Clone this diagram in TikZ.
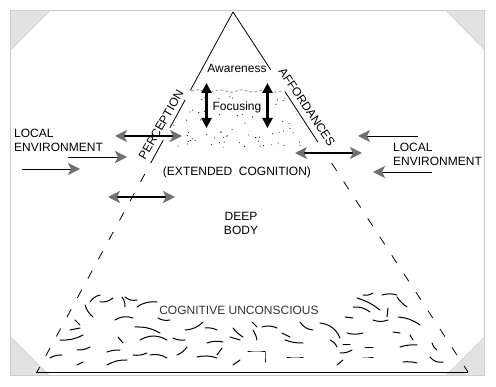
\documentclass[tikz,border=0pt]{standalone}
\usepackage{fontspec}
\setmainfont{Liberation Sans}
\usetikzlibrary{arrows.meta,calc,decorations.pathmorphing}
\definecolor{headgray}{RGB}{112,112,112}
\definecolor{framegray}{RGB}{200,200,200}
\definecolor{cornergray}{RGB}{226,226,226}
\definecolor{wavegray}{RGB}{150,150,150}
\begin{document}
\begin{tikzpicture}[x=1pt, y=-1pt,
    every node/.style={font=\fontsize{12}{14}\selectfont, inner sep=0pt},
    edge/.style={line width=0.8pt},
    gapped/.style={line width=0.8pt, dash pattern=on 9pt off 13pt},
    squiggle/.style={line width=1pt, line cap=round},
    envarrow/.style={line width=0.9pt, -{Stealth[length=12pt,width=12pt,inset=3pt,color=headgray]}},
    linkarrow/.style={line width=2pt, {Stealth[length=12pt,width=12pt,inset=3pt,color=headgray]}-{Stealth[length=12pt,width=12pt,inset=3pt,color=headgray]}},
    focusarrow/.style={line width=3pt, {Triangle[length=10pt,width=10pt]}-{Triangle[length=10pt,width=10pt]}}]
  \useasboundingbox (0,0) rectangle (496,387);
  % Frame
  \draw[framegray, line width=1pt] (10.5,10.5) rectangle (484.5,375.5);
  \filldraw[fill=cornergray, draw=framegray] (10.5,10.5) -- (50,10.5) -- (10.5,50) -- cycle;
  \filldraw[fill=cornergray, draw=framegray] (446,10.5) -- (484.5,10.5) -- (484.5,50) -- cycle;
  \filldraw[fill=cornergray, draw=framegray] (10.5,337) -- (10.5,375.5) -- (49,375.5) -- cycle;
  \filldraw[fill=cornergray, draw=framegray] (446,375.5) -- (484.5,337) -- (484.5,375.5) -- cycle;
  % Pyramid
  \coordinate (apex) at (233,12);
  \coordinate (bl) at (37,372);
  \coordinate (br) at (468,372);
  \draw[edge] ([xshift=-1pt]bl) -- (br);
  \draw[edge] (apex) -- ($(apex)!0.217!(bl)$);
  \draw[edge] ($(apex)!0.244!(bl)$) -- ($(apex)!0.322!(bl)$);
  \draw[edge] ($(apex)!0.356!(bl)$) -- ($(apex)!0.42!(bl)$);
  \draw[gapped] ($(apex)!0.45!(bl)$) -- (bl);
  \draw[edge] (apex) -- ($(apex)!0.161!(br)$);
  \draw[edge] ($(apex)!0.222!(br)$) -- ($(apex)!0.361!(br)$);
  \draw[gapped] ($(apex)!0.42!(br)$) -- (br);
  % Focus zone
  \begin{scope}
    \clip (191,95) -- (284,95) -- (318,148) -- (160,148) -- cycle;
    \pgfmathsetseed{17}
    \foreach \i in {1,...,95}
      \fill ({160+160*rnd},{95+53*rnd}) circle (0.55pt);
  \end{scope}
  \draw[wavegray, line width=0.8pt, dash pattern=on 3pt off 2pt,
    decorate, decoration={snake, amplitude=1.3pt, segment length=22pt}]
    (191,91) -- (286,91);
  % Cognitive unconscious
  \foreach \xa/\ya/\xb/\yb/\k in {
      90/302/100/295/20, 100/302/113/298/-20, 122/297/125/307/20,
      125/297/137/300/-25, 137/307/157/302/20, 85/305/93/317/-15,
      75/320/80/325/0, 115/320/133/318/25, 158/318/170/320/-20,
      135/327/160/333/15, 185/330/203/322/-20, 205/328/217/330/15,
      233/328/243/337/-10, 252/322/257/327/0, 262/327/277/328/20,
      300/322/313/330/-25, 345/317/353/318/0, 353/307/370/312/20,
      357/298/380/310/10, 363/295/373/293/-20, 382/295/397/295/15,
      397/297/407/307/-10, 388/308/387/317/0, 373/320/388/320/-20,
      398/317/420/325/15, 320/323/340/338/30, 347/333/363/333/-15,
      393/332/400/333/0, 410/335/413/340/0, 70/330/80/328/0,
      60/340/83/335/-15, 118/337/123/343/0, 140/340/167/340/30,
      173/338/185/340/-15, 207/343/223/342/15, 230/337/240/340/0,
      253/330/257/340/10, 282/333/290/337/0, 285/340/303/343/-10,
      330/340/337/347/20, 343/345/350/345/0, 365/348/373/348/0,
      400/347/417/345/10, 432/343/437/350/-20, 50/358/62/355/15,
      77/350/90/347/-15, 107/352/120/350/10, 133/355/147/353/-15,
      150/355/167/358/20, 177/355/187/347/-15, 197/357/217/358/15,
      217/355/222/348/0, 248/352/265/352/0, 265/352/265/362/0,
      287/358/303/358/0, 340/353/352/350/-15, 363/358/373/358/0,
      403/362/417/363/10, 430/357/443/362/-30, 77/365/83/362/0,
      107/365/127/360/15, 233/365/240/360/0, 337/365/343/360/0}
    \draw[squiggle] (\xa,\ya) to[bend left=\k] (\xb,\yb);
  % Nodes
  \node (aware) at (237,68) {Awareness};
  \node[fill=white, inner sep=1pt] (focus) at (237,107) {Focusing};
  \node[rotate=60] (perc) at (161,125) {PERCEPTION};
  \node[rotate=-56] (aff) at (307,107) {AFFORDANCES};
  \node (ext) at (237,172) {(EXTENDED\ \ COGNITION)};
  \node[align=center] (deep) at (241,223) {DEEP\\BODY};
  \node[text=black!80] (uncon) at (239,310) {COGNITIVE UNCONSCIOUS};
  \node[anchor=west, align=left] (envl) at (14,140) {LOCAL\\ENVIRONMENT};
  \node[anchor=west, align=left] (envr) at (393,154) {LOCAL\\ENVIRONMENT};
  % Arrow ends
  \coordinate (perc-l) at (115,136);
  \coordinate (perc-r) at (182,136);
  \coordinate (envl1-s) at (68,157);
  \coordinate (envl1-e) at (127,157);
  \coordinate (envl2-s) at (22,169);
  \coordinate (envl2-e) at (80,169);
  \coordinate (body-l) at (108,197);
  \coordinate (body-r) at (175,197);
  \coordinate (aff-l) at (295,153);
  \coordinate (aff-r) at (362,153);
  \coordinate (envr1-s) at (418,136);
  \coordinate (envr1-e) at (358,136);
  \coordinate (envr2-s) at (432,172);
  \coordinate (envr2-e) at (373,172);
  \coordinate (fl-t) at (206.5,83);
  \coordinate (fl-b) at (206.5,128);
  \coordinate (fr-t) at (267.5,83);
  \coordinate (fr-b) at (267.5,128);
  % Arrows
  \draw[linkarrow] (perc-l) -- (perc-r);
  \draw[linkarrow] (body-l) -- (body-r);
  \draw[linkarrow] (aff-l) -- (aff-r);
  \draw[envarrow] (envl1-s) -- (envl1-e);
  \draw[envarrow] (envl2-s) -- (envl2-e);
  \draw[envarrow] (envr1-s) -- (envr1-e);
  \draw[envarrow] (envr2-s) -- (envr2-e);
  \draw[focusarrow] (fl-t) -- (fl-b);
  \draw[focusarrow] (fr-t) -- (fr-b);
\end{tikzpicture}
\end{document}
